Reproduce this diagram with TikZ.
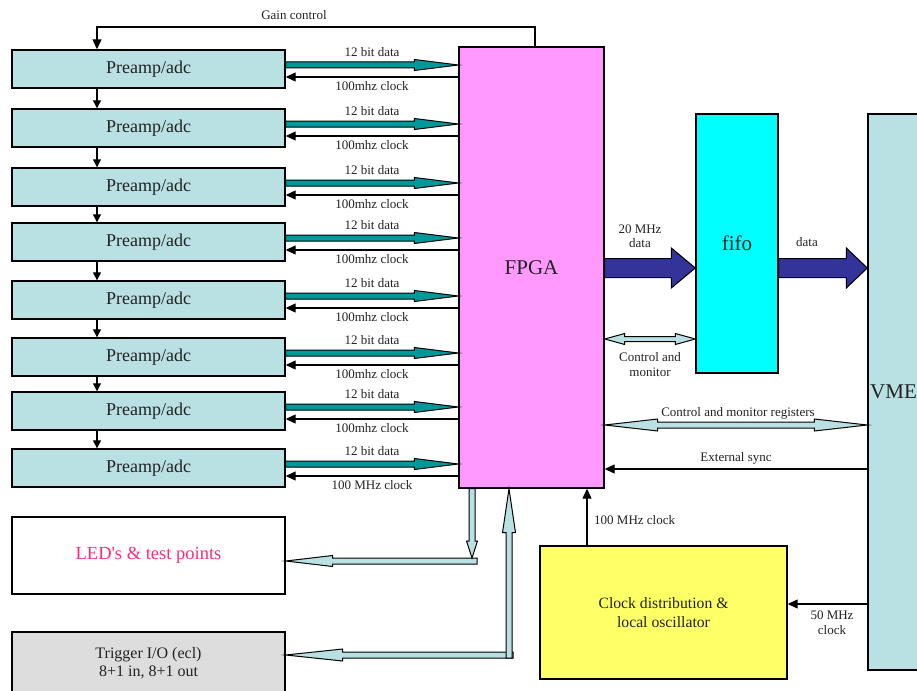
\documentclass[tikz,border=0pt]{standalone}
\usepackage{fontspec}
\setmainfont{Liberation Serif}
\usetikzlibrary{calc,arrows.meta}
\definecolor{preampc}{HTML}{B9E0E3}
\definecolor{fpgac}{HTML}{FF99FF}
\definecolor{fifoc}{HTML}{00FFFF}
\definecolor{clockc}{HTML}{FFFF66}
\definecolor{trigc}{HTML}{DDDDDD}
\definecolor{tealc}{HTML}{009999}
\definecolor{navyc}{HTML}{333399}
\definecolor{ledtxt}{HTML}{FF2A7F}
\definecolor{txt}{HTML}{222222}
% single-headed fat arrow: style, from, to, shaft half width, head half width, head length
\newcommand\fatarrow[6]{%
  \draw[#1] let \p1=(#2), \p2=(#3), \n1={veclen(\x2-\x1,\y2-\y1)},
    \n2={(\x2-\x1)/\n1}, \n3={(\y2-\y1)/\n1} in
    ({\x1-(#4)*\n3},{\y1+(#4)*\n2})
    -- ({\x1+(\n1-#6)*\n2-(#4)*\n3},{\y1+(\n1-#6)*\n3+(#4)*\n2})
    -- ({\x1+(\n1-#6)*\n2-(#5)*\n3},{\y1+(\n1-#6)*\n3+(#5)*\n2})
    -- (\p2)
    -- ({\x1+(\n1-#6)*\n2+(#5)*\n3},{\y1+(\n1-#6)*\n3-(#5)*\n2})
    -- ({\x1+(\n1-#6)*\n2+(#4)*\n3},{\y1+(\n1-#6)*\n3-(#4)*\n2})
    -- ({\x1+(#4)*\n3},{\y1-(#4)*\n2}) -- cycle;}
% double-headed fat arrow
\newcommand\fatdouble[6]{%
  \draw[#1] let \p1=(#2), \p2=(#3), \n1={veclen(\x2-\x1,\y2-\y1)},
    \n2={(\x2-\x1)/\n1}, \n3={(\y2-\y1)/\n1} in
    (\p1)
    -- ({\x1+(#6)*\n2-(#5)*\n3},{\y1+(#6)*\n3+(#5)*\n2})
    -- ({\x1+(#6)*\n2-(#4)*\n3},{\y1+(#6)*\n3+(#4)*\n2})
    -- ({\x1+(\n1-#6)*\n2-(#4)*\n3},{\y1+(\n1-#6)*\n3+(#4)*\n2})
    -- ({\x1+(\n1-#6)*\n2-(#5)*\n3},{\y1+(\n1-#6)*\n3+(#5)*\n2})
    -- (\p2)
    -- ({\x1+(\n1-#6)*\n2+(#5)*\n3},{\y1+(\n1-#6)*\n3-(#5)*\n2})
    -- ({\x1+(\n1-#6)*\n2+(#4)*\n3},{\y1+(\n1-#6)*\n3-(#4)*\n2})
    -- ({\x1+(#6)*\n2+(#4)*\n3},{\y1+(#6)*\n3-(#4)*\n2})
    -- ({\x1+(#6)*\n2+(#5)*\n3},{\y1+(#6)*\n3-(#5)*\n2})
    -- cycle;}
\begin{document}
\begin{tikzpicture}[x=1pt,y=-1pt,
  box/.style={draw=black, line width=1.4pt, inner sep=0pt, align=center, text=txt},
  preamp/.style={box, fill=preampc, minimum width=273pt, minimum height=38pt, font=\fontsize{18}{20}\selectfont},
  lbl/.style={font=\fontsize{13}{14}\selectfont, text=txt, inner sep=0pt, align=center},
  sig/.style={draw=black, line width=1.2pt, -{Triangle[length=10pt,width=9pt]}},
  tealarrow/.style={fill=tealc, draw=black, line width=1pt},
  navyarrow/.style={fill=navyc, draw=black, line width=1pt},
  lbarrow/.style={fill=preampc, draw=black, line width=1pt}]
\useasboundingbox (0,0) rectangle (917,690);
\clip (0,0) rectangle (917,690);

% main blocks
\node[box, fill=fpgac, minimum width=145pt, minimum height=441pt, font=\fontsize{21}{24}\selectfont] (fpga) at (531.5,267.5) {FPGA};
\node[box, fill=fifoc, minimum width=82pt, minimum height=259pt, font=\fontsize{21}{24}\selectfont] (fifo) at (737,243.5) {fifo};
\node[box, fill=preampc, minimum width=100pt, minimum height=556pt] (vme) at (918,392) {};
\node[lbl, font=\fontsize{21}{24}\selectfont, anchor=west] (vmelbl) at (870,392) {VME};
\node[box, fill=clockc, minimum width=247pt, minimum height=133pt, font=\fontsize{15.7}{19}\selectfont] (clock) at (663.5,612.5) {Clock distribution \&\\local oscillator};
\node[box, fill=white, minimum width=273pt, minimum height=77pt, font=\fontsize{18.5}{21}\selectfont, text=ledtxt] (led) at (148.5,555.5) {LED\textquotesingle s \& test points};
\node[box, fill=trigc, minimum width=273pt, minimum height=62pt, font=\fontsize{16}{18}\selectfont] (trig) at (148.5,663) {Trigger I/O (ecl)\\8+1 in, 8+1 out};

% preamps
\foreach \i/\c in {1/69,2/128,3/187,4/242,5/300,6/357,7/411,8/468}
  \node[preamp] (p\i) at (148.5,\c) {Preamp/adc};

% gain control
\coordinate (gc) at (97,27);
\draw[sig] ([xshift=3.5pt]fpga.north) |- (gc) -- (gc |- p1.north);
\node[lbl] (gainlbl) at (294,15) {Gain control};
\foreach \i/\j in {1/2,2/3,3/4,4/5,5/6,6/7,7/8}
  \draw[sig, -{Triangle[length=8pt,width=8pt]}] (p\i.south -| gc) -- (p\j.north -| gc);

% data / clock links
\foreach \i/\t in {1/100mhz clock,2/100mhz clock,3/100mhz clock,4/100mhz clock,5/100mhz clock,6/100mhz clock,7/100mhz clock,8/100 MHz clock} {
  \coordinate (d\i) at ($(p\i.east)+(0,-4)$);
  \coordinate (e\i) at (fpga.west |- d\i);
  \coordinate (c\i) at ($(p\i.east)+(0,8)$);
  \coordinate (f\i) at (fpga.west |- c\i);
  \fatarrow{tealarrow}{d\i}{e\i}{3pt}{5.5pt}{44pt}
  \draw[sig] (f\i) -- (c\i);
  \node[lbl] at ($(d\i)!0.5!(e\i)+(0,-13)$) {12 bit data};
  \node[lbl] at ($(c\i)!0.5!(f\i)+(0,9)$) {\t};
}

% FPGA -> fifo -> VME
\coordinate (ym) at (0,268);
\coordinate (a1) at (fpga.east |- ym);
\coordinate (a2) at (fifo.west |- ym);
\coordinate (a3) at (fifo.east |- ym);
\coordinate (a4) at (vme.west |- ym);
\fatarrow{navyarrow}{a1}{a2}{9.5pt}{20pt}{24pt}
\fatarrow{navyarrow}{a3}{a4}{9.5pt}{20pt}{21pt}
\node[lbl] at (640,236) {20 MHz\\data};
\node[lbl] at (807,242) {data};

% control and monitor (fifo)
\coordinate (ycm) at (0,339);
\coordinate (b1) at (fpga.east |- ycm);
\coordinate (b2) at (fifo.west |- ycm);
\fatdouble{lbarrow}{b1}{b2}{2.5pt}{5.5pt}{20pt}
\node[lbl, font=\fontsize{13}{15}\selectfont] at (650,365) {Control and\\monitor};

% control and monitor registers (VME)
\coordinate (ycr) at (0,425);
\coordinate (r1) at (fpga.east |- ycr);
\coordinate (r2) at (vme.west |- ycr);
\fatdouble{lbarrow}{r1}{r2}{3pt}{6pt}{53pt}
\node[lbl] at (738,413) {Control and monitor registers};

% external sync
\coordinate (yes) at (0,469);
\draw[sig] (vme.west |- yes) -- (fpga.east |- yes) node[lbl, midway, above=4pt] {External sync};

% 100 MHz clock from clock box
\coordinate (xck) at (587,0);
\draw[sig] (clock.north -| xck) -- (fpga.south -| xck);
\node[lbl, anchor=west] at (594,520) {100 MHz clock};

% 50 MHz clock
\coordinate (y50) at (0,604);
\draw[sig] (vme.west |- y50) -- (clock.east |- y50);
\node[lbl, font=\fontsize{13}{15}\selectfont] at (832,623) {50 MHz\\clock};

% FPGA -> LEDs
\coordinate (ledbar) at (477,561);
\coordinate (ledtip) at (472,558);
\fatarrow{lbarrow}{ledbar}{led.east |- ledbar}{3pt}{5.5pt}{47pt}
\fatarrow{lbarrow}{fpga.south -| ledtip}{ledtip}{3pt}{5.5pt}{17pt}

% Trigger -> FPGA
\coordinate (trgbar) at (513,655);
\coordinate (trgup) at (509,658);
\fatarrow{lbarrow}{trgbar}{trig.east |- trgbar}{3pt}{6pt}{57pt}
\fatarrow{lbarrow}{trgup}{fpga.south -| trgup}{3pt}{6.5pt}{44pt}
\end{tikzpicture}
\end{document}
